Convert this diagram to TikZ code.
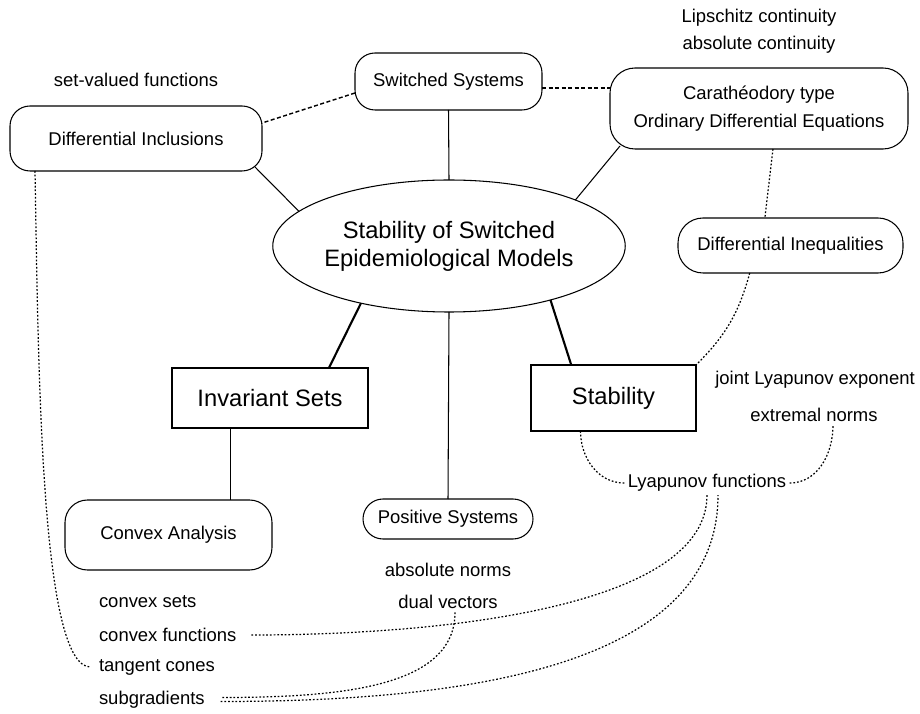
\documentclass[tikz,border=0pt]{standalone}
\usepackage{fontspec}
\setmainfont{Liberation Sans}
\usetikzlibrary{shapes.geometric}

\begin{document}
\begin{tikzpicture}
\tikzset{ inner sep=2pt, outer sep=0pt,
  small/.style={font=\fontsize{10.5}{16}\selectfont},
  big/.style={font=\fontsize{13.5}{16}\selectfont},
  topic/.style={draw, line width=0.6pt, rounded corners=0.4cm, small, align=center},
  block/.style={draw, line width=0.6pt, big},
  hub/.style={draw, line width=0.6pt, ellipse, big, align=center, inner sep=0pt,
              minimum width=6.84cm, minimum height=2.64cm},
  note/.style={small},
  link/.style={line width=0.6pt},
  strong/.style={line width=1.2pt},
  loose/.style={line width=0.8pt, dash pattern=on 2.3pt off 1.4pt},
  hint/.style={line width=0.7pt, dash pattern=on 1pt off 1.1pt},
}

\useasboundingbox (0,0) rectangle (18.4,14.26);
%\draw [lightgray, dashed](0,0) grid (18,14);

\node [hub] (main) at (8.98,9.34) {Stability of Switched\\Epidemiological Models};

\node [topic, minimum width=3.74cm, minimum height=1.14cm] (SS) at ( 8.97,12.63) {Switched Systems};
\node [topic, minimum width=5.04cm, minimum height=1.30cm] (DI) at ( 2.72,11.49) {Differential Inclusions};
\node [topic, minimum width=5.96cm, minimum height=1.62cm, rounded corners=0.5cm] (CT) at (15.18,12.09) {Carathéodory type\\Ordinary Differential Equations};
\node [topic, minimum width=4.50cm, minimum height=1.10cm, rounded corners=0.5cm] (DIneq) at (15.81, 9.35) {Differential Inequalities};
\node [topic, minimum width=4.14cm, minimum height=1.40cm, rounded corners=0.45cm] (CA) at ( 3.37, 3.56) {Convex Analysis};
\node [topic, minimum width=3.40cm, minimum height=0.80cm] (PS) at ( 8.96, 3.88) {Positive Systems};
\node [block, minimum width=3.30cm, minimum height=1.32cm] (Stab) at (12.27, 6.30) {Stability};
\node [block, minimum width=3.92cm, minimum height=1.20cm] (IS) at ( 5.40, 6.30) {Invariant Sets};

\node [note] (setval)  at ( 2.72,12.66) {set-valued functions};
\node [note] (lipsch)  at (15.18,13.90) {Lipschitz continuity};
\node [note] (abscont) at (15.18,13.36) {absolute continuity};
\node [note] (jointle) at (16.30, 6.66) {joint Lyapunov exponent};
\node [note] (extnorm) at (16.28, 5.96) {extremal norms};
\node [note] (lyapfn)  at (14.14, 4.60) {Lyapunov functions};
\node [note] (absnorm) at ( 8.96, 2.86) {absolute norms};
\node [note] (dualvec) at ( 8.96, 2.22) {dual vectors};
\node [note, anchor=west] (cvxsets) at (1.91,2.22) {convex sets};
\node [note, anchor=west] (cvxfun)  at (1.91,1.56) {convex functions};
\node [note, anchor=west] (tancone) at (1.91,0.92) {tangent cones};
\node [note, anchor=west] (subgrad) at (1.91,0.26) {subgradients};

\draw [link] (SS.south) -- (main.north);
\draw [link] ([xshift=-0.14cm,yshift=0.08cm]DI.south east) -- (main.167);
\draw [link] (main.20) -- ([xshift=0.2cm,yshift=0.06cm]CT.south west);
\draw [link] (main.south) -- (PS.north);
\draw [strong] (main.-147) -- (IS.27);
\draw [strong] (main.-28) -- (Stab.142);
\draw [link] (IS.-143) -- (IS.-143 |- CA.north);

\draw [loose] (SS.187) -- (DI.7);
\draw [loose] (SS.-4) -- (SS.-4 -| CT.west);

\draw [hint] (CT.-71) -- (DIneq.133);
\draw [hint] (DIneq.-146) to [bend left=15] (Stab.north east);
\draw [hint] (Stab.-135) to [out=-90, in=180] (lyapfn.west);
\draw [hint] (lyapfn.east) to [out=0, in=-90] ([xshift=0.38cm]extnorm.south);
\draw [hint] ([xshift=0.5cm]DI.south west) to [out=-89, in=180, out distance=4cm, in distance=1cm] ([xshift=-0.1cm]tancone.west);
\draw [hint] ([xshift=0.23cm]cvxfun.east) to [out=0, in=-90, out distance=4cm, in distance=2.2cm] (lyapfn.south);
\draw [hint] ([xshift=0.25cm,yshift=-0.03cm]subgrad.east) to [out=0, in=-90, out distance=5cm, in distance=3.4cm] ([xshift=0.22cm]lyapfn.south);
\draw [hint] ([xshift=0.14cm]dualvec.south) to [out=-90, in=0, out distance=1.5cm, in distance=2.4cm] ([xshift=0.25cm,yshift=0.05cm]subgrad.east);

\end{tikzpicture}
\end{document}
